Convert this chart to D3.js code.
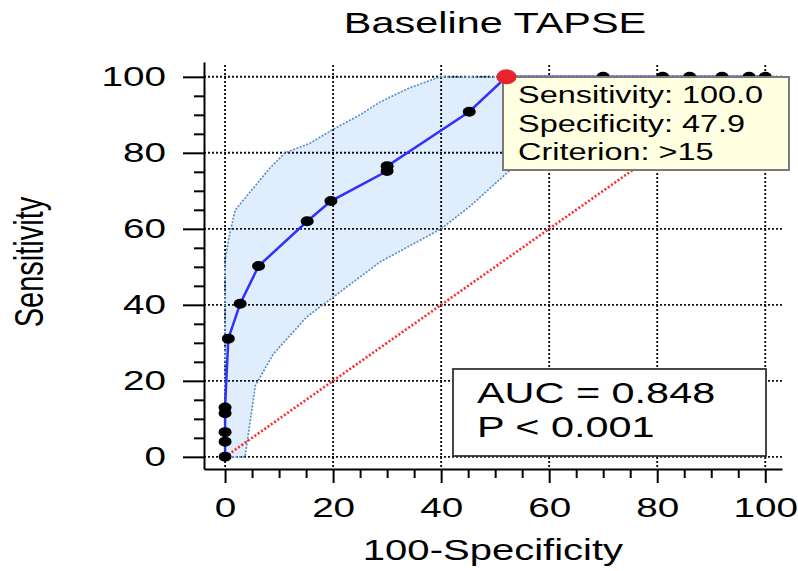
<!DOCTYPE html>
<html lang="en">
<head>
  <meta charset="UTF-8" />
  <title>Baseline TAPSE - ROC curve</title>
  <script src="https://d3js.org/d3.v7.min.js"></script>
  <style>
    body { margin: 0; background: #fff; }
    svg text { font-family: "Liberation Sans", Arial, sans-serif; fill: #000; }
    .grid line { stroke: #111; stroke-width: 1.9; stroke-dasharray: 2,2; }
    .axis path, .axis line { stroke: #000; stroke-width: 2; }
    .band-edge { fill: none; stroke: #5a8fca; stroke-width: 1.7; stroke-dasharray: 2,1.5; }
  </style>
</head>
<body>
  <div id="chart"></div>
  <script>
    // ROC curve: 100-Specificity vs Sensitivity
    const rocX = [0, 0, 0, 0, 0, 0.6, 2.8, 6.2, 15.2, 19.6, 30, 30, 45.2, 52.1, 70, 81, 86, 92, 97, 100];
    const rocY = [0, 4, 6.5, 11.5, 13, 31.1, 40.3, 50.2, 62, 67.3, 75.2, 76.5, 90.8, 100, 100, 100, 100, 100, 100, 100];
    const selIndex = 13; // criterion >15

    // 95% confidence band
    const upperX = [0, 0, 0.9, 1.9, 8.3, 11.1, 15.7, 20.4, 25, 28.7, 34, 39.8, 100];
    const upperY = [0, 52, 59, 65, 76, 80, 82.5, 86.5, 90, 93.4, 97, 100, 100];
    const lowerX = [0, 3.7, 5.6, 8.9, 15.1, 20, 28.7, 40, 45.4, 52.8, 60, 65, 71, 100];
    const lowerY = [0, 0, 18.7, 27, 36.8, 42, 51.3, 60, 66, 75.5, 85, 92, 100, 100];

    const majorTicks = [0, 20, 40, 60, 80, 100];
    const minorTicks = [5, 10, 15, 25, 30, 35, 45, 50, 55, 65, 70, 75, 85, 90, 95];

    const titleText = "Baseline TAPSE";
    const xTitle = "100-Specificity";
    const yTitle = "Sensitivity";
    const tipLines = ["Sensitivity: 100.0", "Specificity: 47.9", "Criterion: >15"];
    const statLines = ["AUC = 0.848", "P < 0.001"];

    const W = 798, H = 571;
    const SX = 1.38; // text in the original is stretched horizontally

    const svg = d3.select("#chart").append("svg")
      .attr("width", W).attr("height", H);

    const x = d3.scaleLinear().domain([-3.9, 103.1]).range([204, 782]);
    const y = d3.scaleLinear().domain([-3.2, 103.9]).range([469, 62]);

    const line = d3.line().x(d => x(d[0])).y(d => y(d[1]));
    const upper = upperX.map((v, i) => [v, upperY[i]]);
    const lower = lowerX.map((v, i) => [v, lowerY[i]]);

    // band fill
    svg.append("path")
      .attr("d", line(upper.concat(lower.slice().reverse())) + "Z")
      .attr("fill", "#e0edfc");

    // grid
    const grid = svg.append("g").attr("class", "grid");
    grid.selectAll(".gv").data(majorTicks).join("line")
      .attr("x1", d => x(d)).attr("x2", d => x(d))
      .attr("y1", 65).attr("y2", y.range()[0]);
    grid.selectAll(".gh").data(majorTicks).join("line")
      .attr("y1", d => y(d)).attr("y2", d => y(d))
      .attr("x1", x.range()[0]).attr("x2", x.range()[1]);

    // band edges
    svg.append("path").attr("class", "band-edge").attr("d", line(upper));
    svg.append("path").attr("class", "band-edge").attr("d", line(lower));

    // reference diagonal
    svg.append("path")
      .attr("d", line([[0, 0], [100, 100]]))
      .attr("fill", "none").attr("stroke", "#ff2a2a")
      .attr("stroke-width", 2.6).attr("stroke-dasharray", "2,2");

    // ROC curve
    const roc = rocX.map((v, i) => [v, rocY[i]]);
    svg.append("path")
      .attr("d", line(roc))
      .attr("fill", "none").attr("stroke", "#3030ff").attr("stroke-width", 2.5);

    svg.selectAll(".pt").data(roc.filter((d, i) => i !== selIndex)).join("ellipse")
      .attr("cx", d => x(d[0])).attr("cy", d => y(d[1]))
      .attr("rx", 6.5).attr("ry", 5).attr("fill", "#000");

    // AUC box
    svg.append("rect")
      .attr("x", 453).attr("y", 369).attr("width", 313).attr("height", 87)
      .attr("fill", "#fff").attr("stroke", "#333").attr("stroke-width", 1.8);
    svg.selectAll(".stat").data(statLines).join("text")
      .attr("class", "stretch")
      .attr("x", 477).attr("y", (d, i) => 403 + i * 34)
      .attr("font-size", 30).text(d => d);

    // tooltip
    svg.append("rect")
      .attr("x", 503).attr("y", 77).attr("width", 286).attr("height", 93)
      .attr("fill", "#ffffe1").attr("stroke", "#7a7a7a").attr("stroke-width", 2);
    svg.selectAll(".tip").data(tipLines).join("text")
      .attr("class", "stretch")
      .attr("x", 518).attr("y", (d, i) => 103 + i * 28.5)
      .attr("font-size", 23.5).text(d => d);

    // selected criterion point sits above the tooltip
    svg.append("ellipse")
      .attr("cx", x(roc[selIndex][0])).attr("cy", y(roc[selIndex][1]))
      .attr("rx", 10).attr("ry", 7.5).attr("fill", "#e8232b");

    // axes
    const xAxis = svg.append("g").attr("class", "axis")
      .attr("transform", `translate(0,${y.range()[0]})`)
      .call(d3.axisBottom(x).tickValues(majorTicks).tickSize(14).tickPadding(14).tickSizeOuter(0));
    xAxis.attr("font-size", 28).attr("font-family", null);
    xAxis.selectAll("text").attr("class", "stretch");
    svg.append("g").attr("class", "axis")
      .attr("transform", `translate(0,${y.range()[0]})`)
      .call(d3.axisBottom(x).tickValues(minorTicks).tickSize(9).tickFormat("").tickSizeOuter(0))
      .select(".domain").remove();

    const yAxis = svg.append("g").attr("class", "axis")
      .attr("transform", `translate(${x.range()[0]},0)`)
      .call(d3.axisLeft(y).tickValues(majorTicks).tickSize(21).tickPadding(17).tickSizeOuter(0));
    yAxis.attr("font-size", 28).attr("font-family", null);
    yAxis.selectAll("text").attr("class", "stretch");
    svg.append("g").attr("class", "axis")
      .attr("transform", `translate(${x.range()[0]},0)`)
      .call(d3.axisLeft(y).tickValues(minorTicks).tickSize(10).tickFormat("").tickSizeOuter(0))
      .select(".domain").remove();

    // titles
    svg.append("text").attr("class", "stretch")
      .attr("x", 495).attr("y", 33).attr("text-anchor", "middle")
      .attr("font-size", 30).text(titleText);
    svg.append("text").attr("class", "stretch")
      .attr("x", 493).attr("y", 560).attr("text-anchor", "middle")
      .attr("font-size", 29).text(xTitle);
    svg.append("text")
      .attr("transform", `translate(43,262) scale(${SX},1) rotate(-90)`)
      .attr("text-anchor", "middle")
      .attr("font-size", 29).text(yTitle);

    // widen text to match the original's proportions
    svg.selectAll("text.stretch").each(function () {
      const w = this.getComputedTextLength();
      d3.select(this).attr("textLength", w * SX).attr("lengthAdjust", "spacingAndGlyphs");
    });
  </script>
</body>
</html>
